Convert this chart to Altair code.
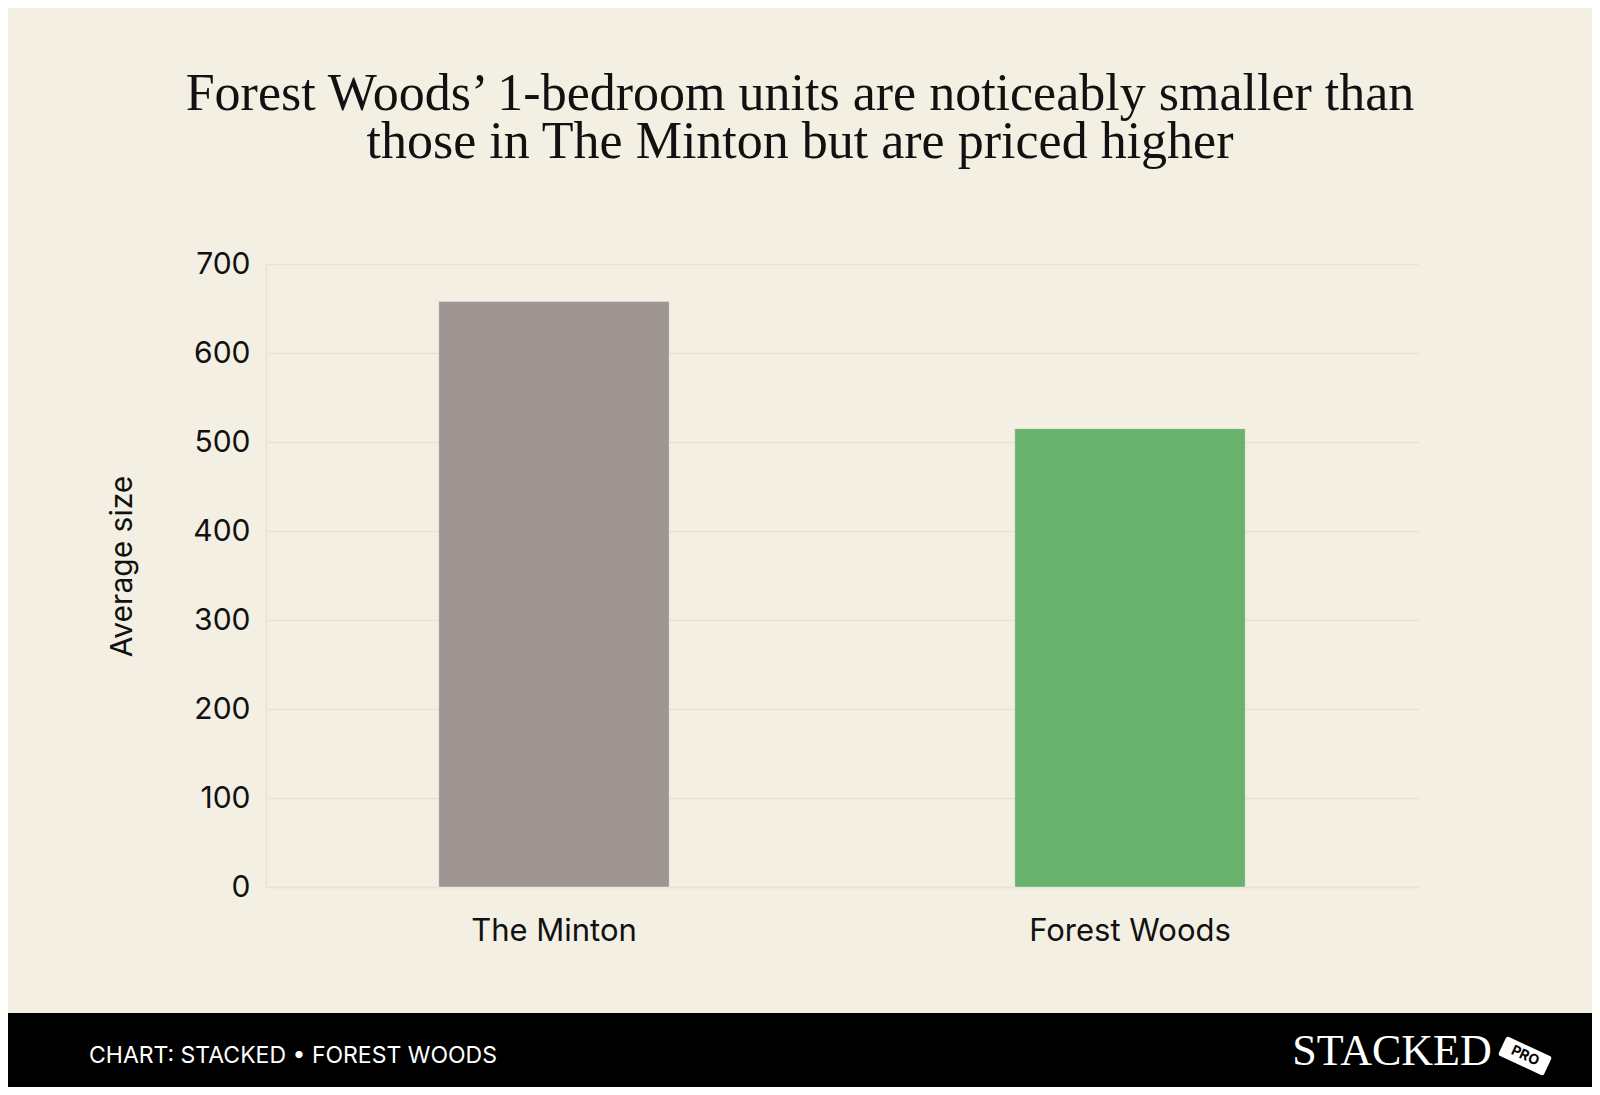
import altair as alt
import pandas as pd

# ---- data ----
projects = ["The Minton", "Forest Woods"]
avg_size = [658, 515]
bar_colors = ["#9E9593", "#68B26D"]
y_ticks = [0, 100, 200, 300, 400, 500, 600, 700]

title_lines = [
    "Forest Woods\u2019 1-bedroom units are noticeably smaller than",
    "those in The Minton but are priced higher",
]
footer_text = "CHART: STACKED \u2022 FOREST WOODS"
logo_text = "STACKED"
badge_text = "PRO"

BG = "#F3EFE3"
GRID = "#E6E2D6"
SANS = "Inter"
SERIF = "Liberation Serif"

df = pd.DataFrame({"project": projects, "size": avg_size})

W, H = 1152, 623

bars = alt.Chart(df).mark_bar(stroke="#FFFFFF", strokeOpacity=0.35, strokeWidth=1).encode(
    x=alt.X(
        "project:N",
        sort=projects,
        scale=alt.Scale(paddingInner=0.6, paddingOuter=0.3),
        axis=alt.Axis(
            title=None,
            labelAngle=0,
            labelFont=SANS,
            labelFontSize=31,
            labelColor="#111111",
            labelBaseline="alphabetic",
            labelPadding=53,
            labelLimit=0,
            ticks=False,
            tickSize=0,
            domain=True,
            domainColor=GRID,
            domainWidth=1.5,
        ),
    ),
    y=alt.Y(
        "size:Q",
        scale=alt.Scale(domain=[0, 700]),
        axis=alt.Axis(
            title="Average size",
            values=y_ticks,
            titleFont=SANS,
            titleFontSize=30,
            titleFontWeight="normal",
            titleColor="#111111",
            titleAngle=270,
            titleAlign="center",
            titleBaseline="middle",
            titleX=-144,
            titleY=302,
            labelFont=SANS,
            labelFontSize=30,
            labelColor="#111111",
            labelPadding=16,
            ticks=False,
            tickSize=0,
            grid=True,
            gridColor=GRID,
            gridWidth=1.5,
            domain=True,
            domainColor=GRID,
            domainWidth=1.5,
        ),
    ),
    color=alt.Color("project:N", scale=alt.Scale(domain=projects, range=bar_colors), legend=None),
)

def text_layer(txt, x, y, **kw):
    return alt.Chart(pd.DataFrame({"t": [txt]})).mark_text(**kw).encode(
        text="t:N", x=alt.value(x), y=alt.value(y)
    )

title1 = text_layer(title_lines[0], 534, -154, font=SERIF, fontSize=52, color="#111111",
                    align="center", baseline="alphabetic")
title2 = text_layer(title_lines[1], 534, -106, font=SERIF, fontSize=52, color="#111111",
                    align="center", baseline="alphabetic")

footer_bg = alt.Chart(pd.DataFrame({"t": [0]})).mark_rect(color="#000000").encode(
    x=alt.value(-260), x2=alt.value(W + 180), y=alt.value(749), y2=alt.value(840)
)

footer = text_layer(footer_text, -177, 799, font=SANS, fontSize=23, color="#FFFFFF",
                    align="left", baseline="alphabetic")
logo = text_layer(logo_text, 1126, 801, font=SERIF, fontSize=44, color="#FFFFFF",
                  align="center", baseline="alphabetic")

badge_path = ("M-0.9,-0.42 L0.9,-0.42 Q1,-0.42 1,-0.32 L1,0.32 Q1,0.42 0.9,0.42 "
              "L-0.9,0.42 Q-1,0.42 -1,0.32 L-1,-0.32 Q-1,-0.42 -0.9,-0.42 Z")
badge = alt.Chart(pd.DataFrame({"t": [0]})).mark_point(
    shape=badge_path, filled=True, color="#FFFFFF", opacity=1, size=2500, angle=25
).encode(x=alt.value(1259), y=alt.value(792))
badge_txt = text_layer(badge_text, 1259, 792, font=SANS, fontSize=14, fontWeight="bold",
                       color="#000000", align="center", baseline="middle", angle=25)

chart = alt.layer(bars, title1, title2, footer_bg, footer, logo, badge, badge_txt).properties(
    width=W,
    height=H,
    autosize=alt.AutoSizeParams(type="none"),
    padding={"left": 258, "top": 256, "right": 174, "bottom": 200},
    background=BG,
).configure_view(stroke=None)

chart.save("out.html", embed_options={"renderer": "svg", "actions": False})
